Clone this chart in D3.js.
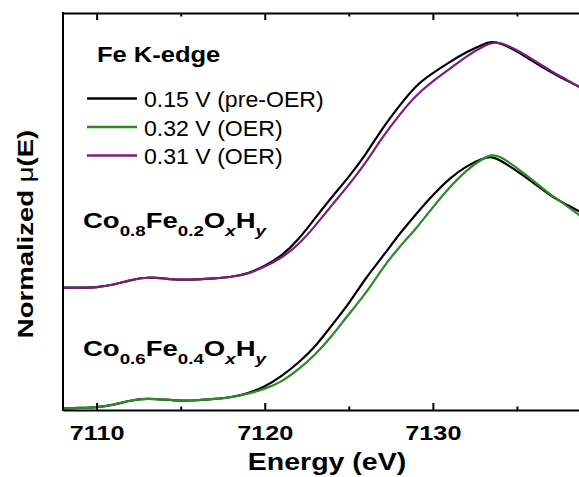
<!DOCTYPE html>
<html>
<head>
<meta charset="utf-8">
<script src="https://cdn.jsdelivr.net/npm/d3@7"></script>
<style>
  html, body { margin: 0; padding: 0; background: #fff; }
  svg { display: block; font-family: "Liberation Sans", Arial, sans-serif; }
</style>
</head>
<body>
<svg id="chart" width="579" height="477"></svg>
<script>
// Photon energy grid (eV)
const energy = [7108, 7109, 7110, 7111, 7112, 7113, 7114, 7115, 7116, 7117, 7118,
                7119, 7120, 7121, 7122, 7123, 7124, 7125, 7126, 7127, 7128, 7129,
                7130, 7131, 7132, 7133, 7133.5, 7134, 7135, 7136, 7137, 7138, 7139];

// Co0.6Fe0.4OxHy, normalized mu(E)
const co06Pre = [0.000, 0.003, 0.006, 0.020, 0.046, 0.058, 0.051, 0.043, 0.046, 0.054, 0.063,
                 0.086, 0.123, 0.183, 0.260, 0.351, 0.477, 0.597, 0.746, 0.866, 0.997, 1.111,
                 1.220, 1.317, 1.386, 1.431, 1.440, 1.420, 1.357, 1.289, 1.214, 1.163, 1.111];
const co06Oer = [0.000, 0.003, 0.006, 0.020, 0.046, 0.058, 0.051, 0.043, 0.046, 0.054, 0.063,
                 0.083, 0.111, 0.151, 0.222, 0.306, 0.414, 0.540, 0.654, 0.803, 0.923, 1.026,
                 1.151, 1.266, 1.363, 1.431, 1.451, 1.443, 1.374, 1.300, 1.220, 1.157, 1.083];

// Co0.8Fe0.2OxHy, normalized mu(E) (plotted with a vertical offset)
const co08Pre = [0.000, 0.001, 0.001, 0.016, 0.044, 0.061, 0.053, 0.044, 0.047, 0.053, 0.061,
                 0.079, 0.124, 0.181, 0.273, 0.399, 0.519, 0.633, 0.759, 0.913, 1.039, 1.159,
                 1.227, 1.290, 1.347, 1.393, 1.407, 1.399, 1.353, 1.290, 1.233, 1.181, 1.136];
const co08Oer = [0.000, 0.001, 0.001, 0.016, 0.044, 0.061, 0.053, 0.044, 0.047, 0.053, 0.061,
                 0.079, 0.119, 0.170, 0.244, 0.353, 0.473, 0.587, 0.713, 0.861, 0.987, 1.101,
                 1.181, 1.250, 1.324, 1.381, 1.399, 1.404, 1.359, 1.301, 1.239, 1.187, 1.130];
const co08Offset = 0.69;

const majorTicks = [7110, 7120, 7130];
const minorTicks = [7115, 7125, 7135];
const legendLabels = ["0.15 V (pre-OER)", "0.32 V (OER)", "0.31 V (OER)"];
const colors = { pre: "#000000", oer032: "#2b8a2b", oer031: "#7b1f7b" };

const svg = d3.select("#chart");
const plotLeft = 63, plotTop = 13, plotBottom = 410, plotRight = 601;

const x = d3.scaleLinear().domain([7108, 7140]).range([plotLeft, plotRight]);
const y = d3.scaleLinear().domain([-0.009, 2.26]).range([plotBottom, plotTop]);

svg.append("defs").append("clipPath").attr("id", "plot-clip")
  .append("rect").attr("x", plotLeft).attr("y", plotTop)
  .attr("width", plotRight - plotLeft).attr("height", plotBottom - plotTop);

const line = d3.line()
  .x(d => x(d[0]))
  .y(d => y(d[1]))
  .curve(d3.curveBasis);

const series = [
  { vals: co06Pre, off: 0, color: colors.pre },
  { vals: co06Oer, off: 0, color: colors.oer032 },
  { vals: co08Pre, off: co08Offset, color: colors.pre },
  { vals: co08Oer, off: co08Offset, color: colors.oer031 }
];

const plot = svg.append("g").attr("clip-path", "url(#plot-clip)");
series.forEach(s => {
  plot.append("path")
    .datum(energy.map((e, i) => [e, s.vals[i] + s.off]))
    .attr("fill", "none")
    .attr("stroke", s.color)
    .attr("stroke-width", 2.2)
    .attr("stroke-linejoin", "round")
    .attr("d", line);
});

// Axes: ticks point inward on bottom and top
function styleAxis(g) {
  g.select(".domain").attr("stroke", "#000").attr("stroke-width", 2);
  g.selectAll(".tick line").attr("stroke", "#000").attr("stroke-width", 2);
}

const xBottom = svg.append("g").attr("transform", `translate(0,${plotBottom})`)
  .call(d3.axisBottom(x).tickValues(majorTicks).tickSizeInner(-7).tickSizeOuter(0)
    .tickFormat(d3.format("d")));
styleAxis(xBottom);
xBottom.selectAll(".tick text")
  .attr("y", null).attr("dy", null)
  .attr("transform", "translate(0,30) scale(1.2,1)")
  .attr("font-size", 21).attr("font-weight", "bold")
  .attr("font-family", "'Liberation Sans', Arial, sans-serif")
  .attr("fill", "#000");

svg.append("g").attr("transform", `translate(0,${plotBottom})`)
  .call(d3.axisBottom(x).tickValues(minorTicks).tickSizeInner(-3.5).tickSizeOuter(0).tickFormat(""))
  .call(g => { g.select(".domain").remove(); styleAxis(g); });

const xTop = svg.append("g").attr("transform", `translate(0,${plotTop})`)
  .call(d3.axisTop(x).tickValues(majorTicks).tickSizeInner(-7).tickSizeOuter(0).tickFormat(""));
styleAxis(xTop);
svg.append("g").attr("transform", `translate(0,${plotTop})`)
  .call(d3.axisTop(x).tickValues(minorTicks).tickSizeInner(-3.5).tickSizeOuter(0).tickFormat(""))
  .call(g => { g.select(".domain").remove(); styleAxis(g); });

svg.append("line")
  .attr("x1", plotLeft).attr("x2", plotLeft).attr("y1", plotTop - 1).attr("y2", plotBottom + 1)
  .attr("stroke", "#000").attr("stroke-width", 2);

// Text helper with horizontal stretch
function label(px, py, sx, opts) {
  return svg.append("text")
    .attr("transform", `translate(${px},${py}) scale(${sx},1)`)
    .attr("font-size", opts.size)
    .attr("font-weight", opts.weight || "normal")
    .attr("text-anchor", opts.anchor || "start")
    .attr("fill", "#000");
}

label(327, 470, 1.24, { size: 23, weight: "bold", anchor: "middle" }).text("Energy (eV)");

// y-axis title
const yt = svg.append("text")
  .attr("transform", "translate(33,234) rotate(-90) scale(1.25,1)")
  .attr("font-size", 22).attr("font-weight", "bold")
  .attr("text-anchor", "middle").attr("fill", "#000");
yt.append("tspan").text("Normalized ");
yt.append("tspan").attr("font-weight", "normal").text("\u03bc");
yt.append("tspan").text("(E)");

label(97, 61.5, 1.16, { size: 22, weight: "bold" }).text("Fe K-edge");

// Legend
const legendColors = [colors.pre, colors.oer032, colors.oer031];
const legendY = [98.5, 127, 155.5];
legendLabels.forEach((t, i) => {
  svg.append("line")
    .attr("x1", 87).attr("x2", 137).attr("y1", legendY[i]).attr("y2", legendY[i])
    .attr("stroke", legendColors[i]).attr("stroke-width", 2.4);
  label(144, legendY[i] + 8.5, 1.05, { size: 22 }).text(t);
});

// Composition labels with subscripts
function formula(px, py, parts) {
  const t = label(px, py, 1.25, { size: 22, weight: "bold" });
  let shifted = false;
  parts.forEach(p => {
    const ts = t.append("tspan").text(p.s);
    if (p.sub) {
      ts.attr("font-size", 15);
      if (!shifted) { ts.attr("dy", 8); shifted = true; }
    } else if (shifted) {
      ts.attr("dy", -8); shifted = false;
    }
    if (p.it) ts.attr("font-style", "italic");
  });
}
formula(83, 227.5, [{ s: "Co" }, { s: "0.8", sub: true }, { s: "Fe" }, { s: "0.2", sub: true },
                    { s: "O" }, { s: "x", sub: true, it: true }, { s: "H" }, { s: "y", sub: true, it: true }]);
formula(83, 356, [{ s: "Co" }, { s: "0.6", sub: true }, { s: "Fe" }, { s: "0.4", sub: true },
                  { s: "O" }, { s: "x", sub: true, it: true }, { s: "H" }, { s: "y", sub: true, it: true }]);
</script>
</body>
</html>
